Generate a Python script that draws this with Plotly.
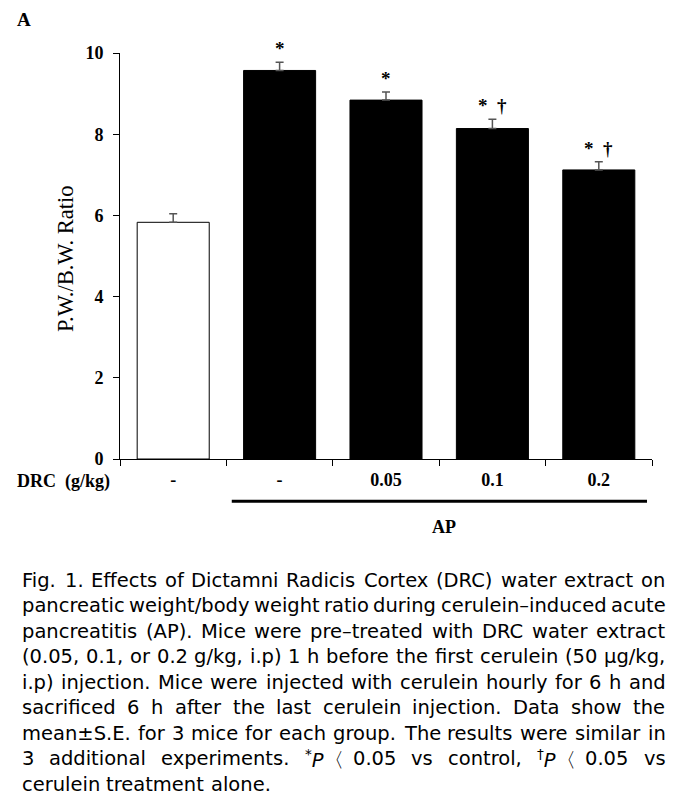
import plotly.graph_objects as go

# ---------------- data ----------------
groups = ["Control", "AP", "AP+DRC 0.05", "AP+DRC 0.1", "AP+DRC 0.2"]
tick_labels = ["-", "-", "0.05", "0.1", "0.2"]
ratio_mean = [5.83, 9.57, 8.84, 8.14, 7.12]
ratio_se = [0.21, 0.20, 0.20, 0.23, 0.20]
significance = ["", "*", "*", "*  \u2020", "*  \u2020"]
bar_colors = ["white", "black", "black", "black", "black"]

caption_lines = [
    "Fig. 1. Effects of Dictamni Radicis Cortex (DRC) water extract on",
    "pancreatic weight/body weight ratio during cerulein\u2013induced acute",
    "pancreatitis (AP). Mice were pre\u2013treated with DRC water extract",
    "(0.05, 0.1, or 0.2 g/kg, i.p) 1 h before the first cerulein (50 \u00b5g/kg,",
    "i.p) injection. Mice were injected with cerulein hourly for 6 h and",
    "sacrificed 6 h after the last cerulein injection. Data show the",
    "mean\u00b1S.E. for 3 mice for each group. The results were similar in",
    "3 additional experiments. *P\u3008 0.05 vs control, \u2020P\u3008 0.05 vs",
    "cerulein treatment alone.",
]

# ---------------- layout geometry ----------------
W, H = 682, 797
ML, MR, MT, MB = 120, 30.3, 52.7, 337.7
PW, PH = W - ML - MR, H - MT - MB


def px_x(x):
    return (x - ML) / PW


def px_y(y):
    return (H - MB - y) / PH


SERIF = "Liberation Serif, Times New Roman, serif"
SANS = "DejaVu Sans, sans-serif"

fig = go.Figure()
fig.add_trace(go.Bar(
    x=groups, y=ratio_mean,
    marker=dict(color=bar_colors, line=dict(color="black", width=1)),
    error_y=dict(type="data", array=ratio_se, arrayminus=[0] * len(ratio_se),
                 symmetric=False, color="#555555", thickness=1.5, width=4),
    showlegend=False, hoverinfo="skip",
))

annotations = []
for g, m, s, t in zip(groups, ratio_mean, ratio_se, significance):
    if t:
        annotations.append(dict(x=g, y=m + s, xref="x", yref="y", text="<b>" + t + "</b>",
                                showarrow=False, yanchor="bottom", yshift=1,
                                font=dict(family=SERIF, size=19, color="black")))

# panel letter
annotations.append(dict(x=px_x(15), y=px_y(19), xref="paper", yref="paper", text="<b>A</b>",
                        showarrow=False, xanchor="left", yanchor="middle",
                        font=dict(family=SERIF, size=19, color="black")))
# y title
annotations.append(dict(x=px_x(66), y=px_y(258), xref="paper", yref="paper",
                        text="P.W./B.W. Ratio", textangle=-90, showarrow=False,
                        xanchor="center", yanchor="middle",
                        font=dict(family=SERIF, size=22.5, color="black")))
# DRC label
annotations.append(dict(x=px_x(15), y=px_y(482), xref="paper", yref="paper",
                        text="<b>DRC  (g/kg)</b>", showarrow=False,
                        xanchor="left", yanchor="middle",
                        font=dict(family=SERIF, size=18, color="black")))
# AP label
annotations.append(dict(x=px_x(444), y=px_y(527), xref="paper", yref="paper",
                        text="<b>AP</b>", showarrow=False,
                        xanchor="center", yanchor="middle",
                        font=dict(family=SERIF, size=18, color="black")))

# ---------------- caption (justified, word by word) ----------------
WIDTHS = {
    " ": .318, "(": .390, ")": .390, "*": .500, ",": .318, "-": .361, ".": .318, "/": .337,
    "A": .684, "B": .686, "C": .698, "D": .770, "E": .632, "F": .575, "M": .863,
    "P": .603, "R": .695, "S": .635, "T": .611,
    "a": .613, "b": .635, "c": .550, "d": .635, "e": .615, "f": .352, "g": .635,
    "h": .634, "i": .278, "j": .278, "k": .579, "l": .278, "m": .974, "n": .634,
    "o": .612, "p": .635, "q": .635, "r": .411, "s": .521, "t": .392, "u": .634,
    "v": .592, "w": .818, "x": .592, "y": .592, "z": .525,
    "\u00b1": .838, "\u00b5": .636, "\u3008": .6, "\u2020": .500, "\u2013": .500,
}
for dgt in "0123456789":
    WIDTHS[dgt] = .636

CAP_SIZE = 19.5
CAP_LEFT, CAP_RIGHT = 20, 663
CAP_Y0, CAP_DY = 581, 25.5


def word_width(w):
    return sum(WIDTHS.get(ch, 0.6) for ch in w) * CAP_SIZE


def rich(w):
    if w.startswith("*P"):
        return "<sup>*</sup><i>P</i>" + w[2:]
    if w.startswith("\u2020P"):
        return "<sup>\u2020</sup><i>P</i>" + w[2:]
    return w


for i, line in enumerate(caption_lines):
    words = line.split(" ")
    widths = [word_width(w) for w in words]
    last = i == len(caption_lines) - 1
    if last or len(words) == 1:
        gap = WIDTHS[" "] * CAP_SIZE
    else:
        gap = (CAP_RIGHT - CAP_LEFT - sum(widths)) / (len(words) - 1)
    x = CAP_LEFT
    yy = CAP_Y0 + i * CAP_DY
    for w, ww in zip(words, widths):
        annotations.append(dict(x=px_x(x), y=px_y(yy), xref="paper", yref="paper",
                                text=rich(w), showarrow=False, xanchor="left",
                                yanchor="middle",
                                font=dict(family=SANS, size=CAP_SIZE, color="black")))
        x += ww + gap

shapes = [dict(type="line", xref="paper", yref="paper",
               x0=px_x(231.7), x1=px_x(646.7), y0=px_y(501.7), y1=px_y(501.7),
               line=dict(color="black", width=3))]

fig.update_layout(
    width=W, height=H,
    margin=dict(l=ML, r=MR, t=MT, b=MB, pad=0),
    paper_bgcolor="white", plot_bgcolor="white",
    bargap=0.323,
    annotations=annotations,
    shapes=shapes,
    xaxis=dict(type="category", tickmode="array", tickvals=groups, ticktext=tick_labels,
               tickson="boundaries", range=[-0.5, 4.5], showline=True, linecolor="black",
               linewidth=1, ticks="outside", ticklen=6, tickcolor="black", tickwidth=1,
               showgrid=False, zeroline=False, ticklabelstandoff=4,
               tickfont=dict(family=SERIF, size=18, color="black", weight="bold")),
    yaxis=dict(range=[0, 10], tickvals=[0, 2, 4, 6, 8, 10], showline=True,
               linecolor="black", linewidth=1, ticks="outside", ticklen=6,
               tickcolor="black", tickwidth=1, showgrid=False, zeroline=False,
               ticklabelstandoff=6,
               tickfont=dict(family=SERIF, size=18, color="black", weight="bold")),
    font=dict(family=SERIF, color="black"),
)

fig.write_html("out.html", config={"displayModeBar": False},
               post_script="document.body.style.margin='0px';document.body.style.padding='0px';")
